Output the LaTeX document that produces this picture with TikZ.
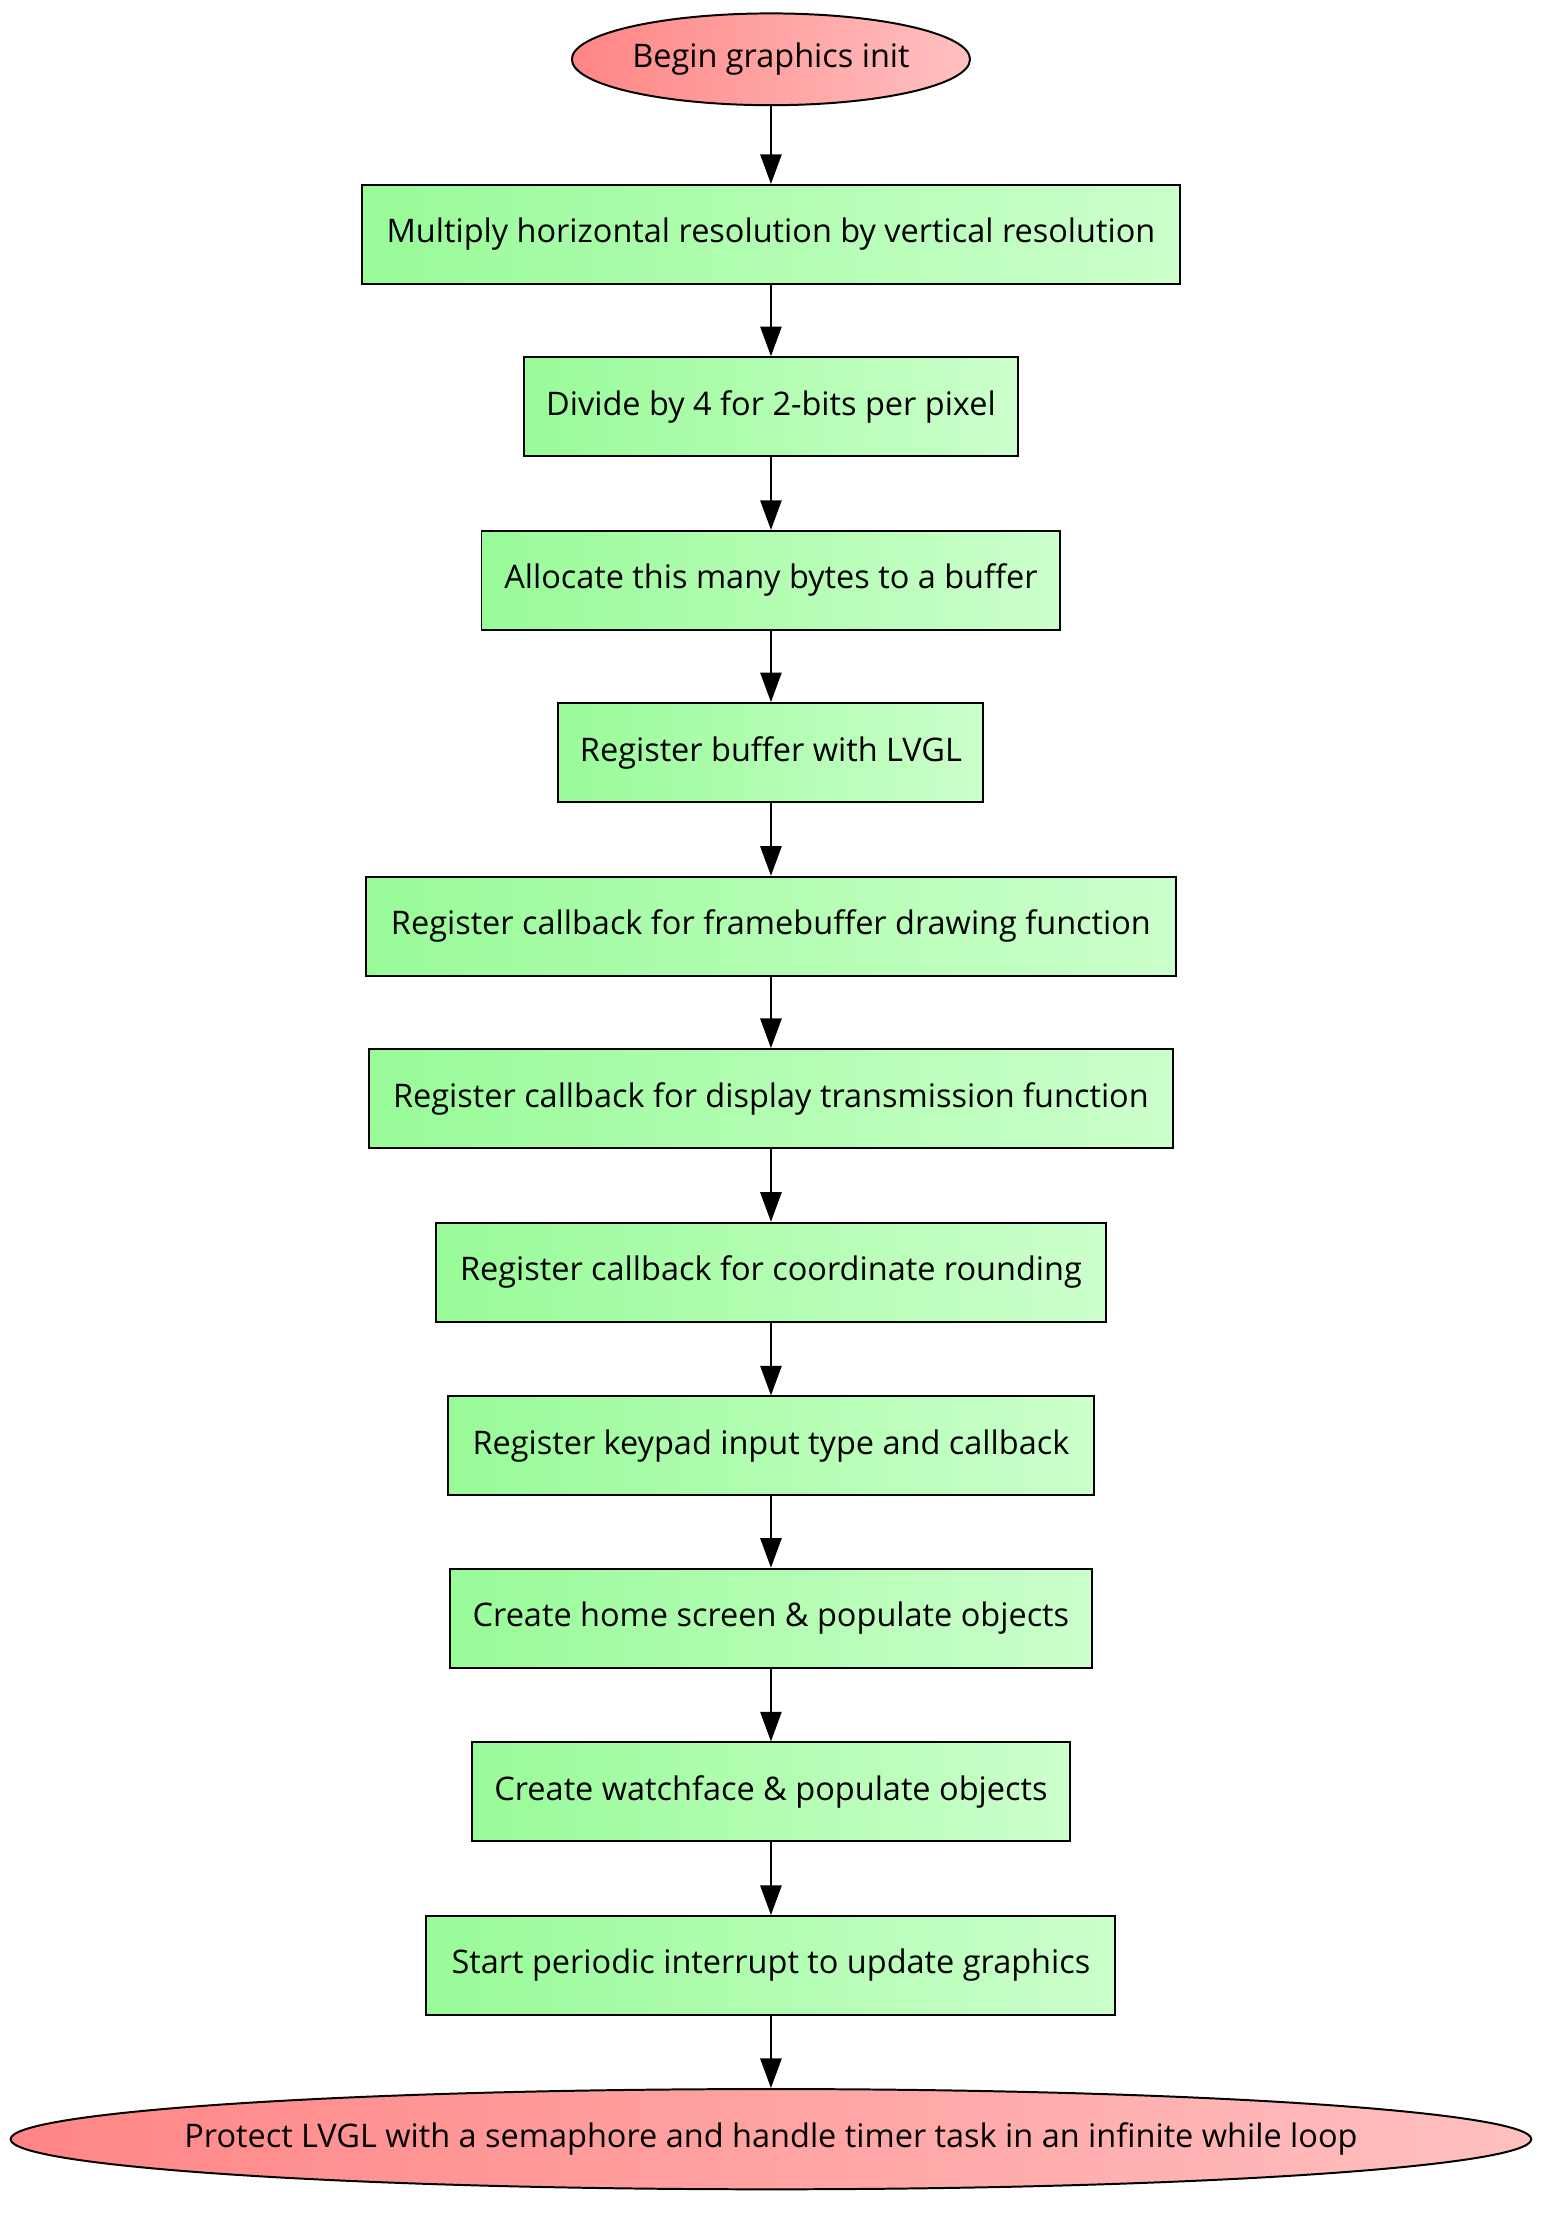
\documentclass[tikz,border=0pt]{standalone}
\usepackage{fontspec}
\setmainfont{Open Sans}
\usetikzlibrary{shapes.geometric,arrows.meta}

\definecolor{termleft}{HTML}{FF8585}
\definecolor{termright}{HTML}{FFC0C0}
\definecolor{stepleft}{HTML}{98FB98}
\definecolor{stepright}{HTML}{CCFFCC}

\tikzset{
  termnode/.style={ellipse, draw=black, line width=1.4pt, left color=termleft,
    right color=termright, inner sep=0pt, font=\fontsize{23}{28}\selectfont},
  stepbox/.style={rectangle, draw=black, line width=1.4pt, left color=stepleft,
    right color=stepright, inner sep=0pt, minimum height=70pt,
    font=\fontsize{23}{28}\selectfont},
  flow/.style={-{Triangle[length=21pt,width=15pt]}, line width=1.5pt}
}

\begin{document}
\begin{tikzpicture}[x=1pt,y=-1pt]

  \useasboundingbox (0,0) rectangle (1103,1568);

  \node [termnode, minimum width=282pt, minimum height=65pt] (start) at (546,42) {Begin graphics init};
  \node [stepbox, minimum width=579pt] (mult) at (546,166) {Multiply horizontal resolution by vertical resolution};
  \node [stepbox, minimum width=350pt] (divide) at (546,288) {Divide by 4 for 2-bits per pixel};
  \node [stepbox, minimum width=410pt] (alloc) at (546,411) {Allocate this many bytes to a buffer};
  \node [stepbox, minimum width=301pt] (regbuf) at (546,533) {Register buffer with LVGL};
  \node [stepbox, minimum width=574pt] (regdraw) at (546,656) {Register callback for framebuffer drawing function};
  \node [stepbox, minimum width=570pt] (regtx) at (546,778) {Register callback for display transmission function};
  \node [stepbox, minimum width=474pt] (reground) at (546,901) {Register callback for coordinate rounding};
  \node [stepbox, minimum width=457pt] (regkey) at (546,1024) {Register keypad input type and callback};
  \node [stepbox, minimum width=455pt] (home) at (546,1146) {Create home screen \& populate objects};
  \node [stepbox, minimum width=424pt] (watch) at (546,1269) {Create watchface \& populate objects};
  \node [stepbox, minimum width=488pt] (timer) at (546,1392) {Start periodic interrupt to update graphics};
  \node [termnode, inner xsep=-36pt, minimum width=1077pt, minimum height=71pt] (loop) at (546,1515) {Protect LVGL with a semaphore and handle timer task in an infinite while loop};

  \foreach \a/\b in {start/mult, mult/divide, divide/alloc, alloc/regbuf,
                     regbuf/regdraw, regdraw/regtx, regtx/reground, reground/regkey,
                     regkey/home, home/watch, watch/timer, timer/loop}
    \draw [flow] (\a) -- (\b);

\end{tikzpicture}
\end{document}
